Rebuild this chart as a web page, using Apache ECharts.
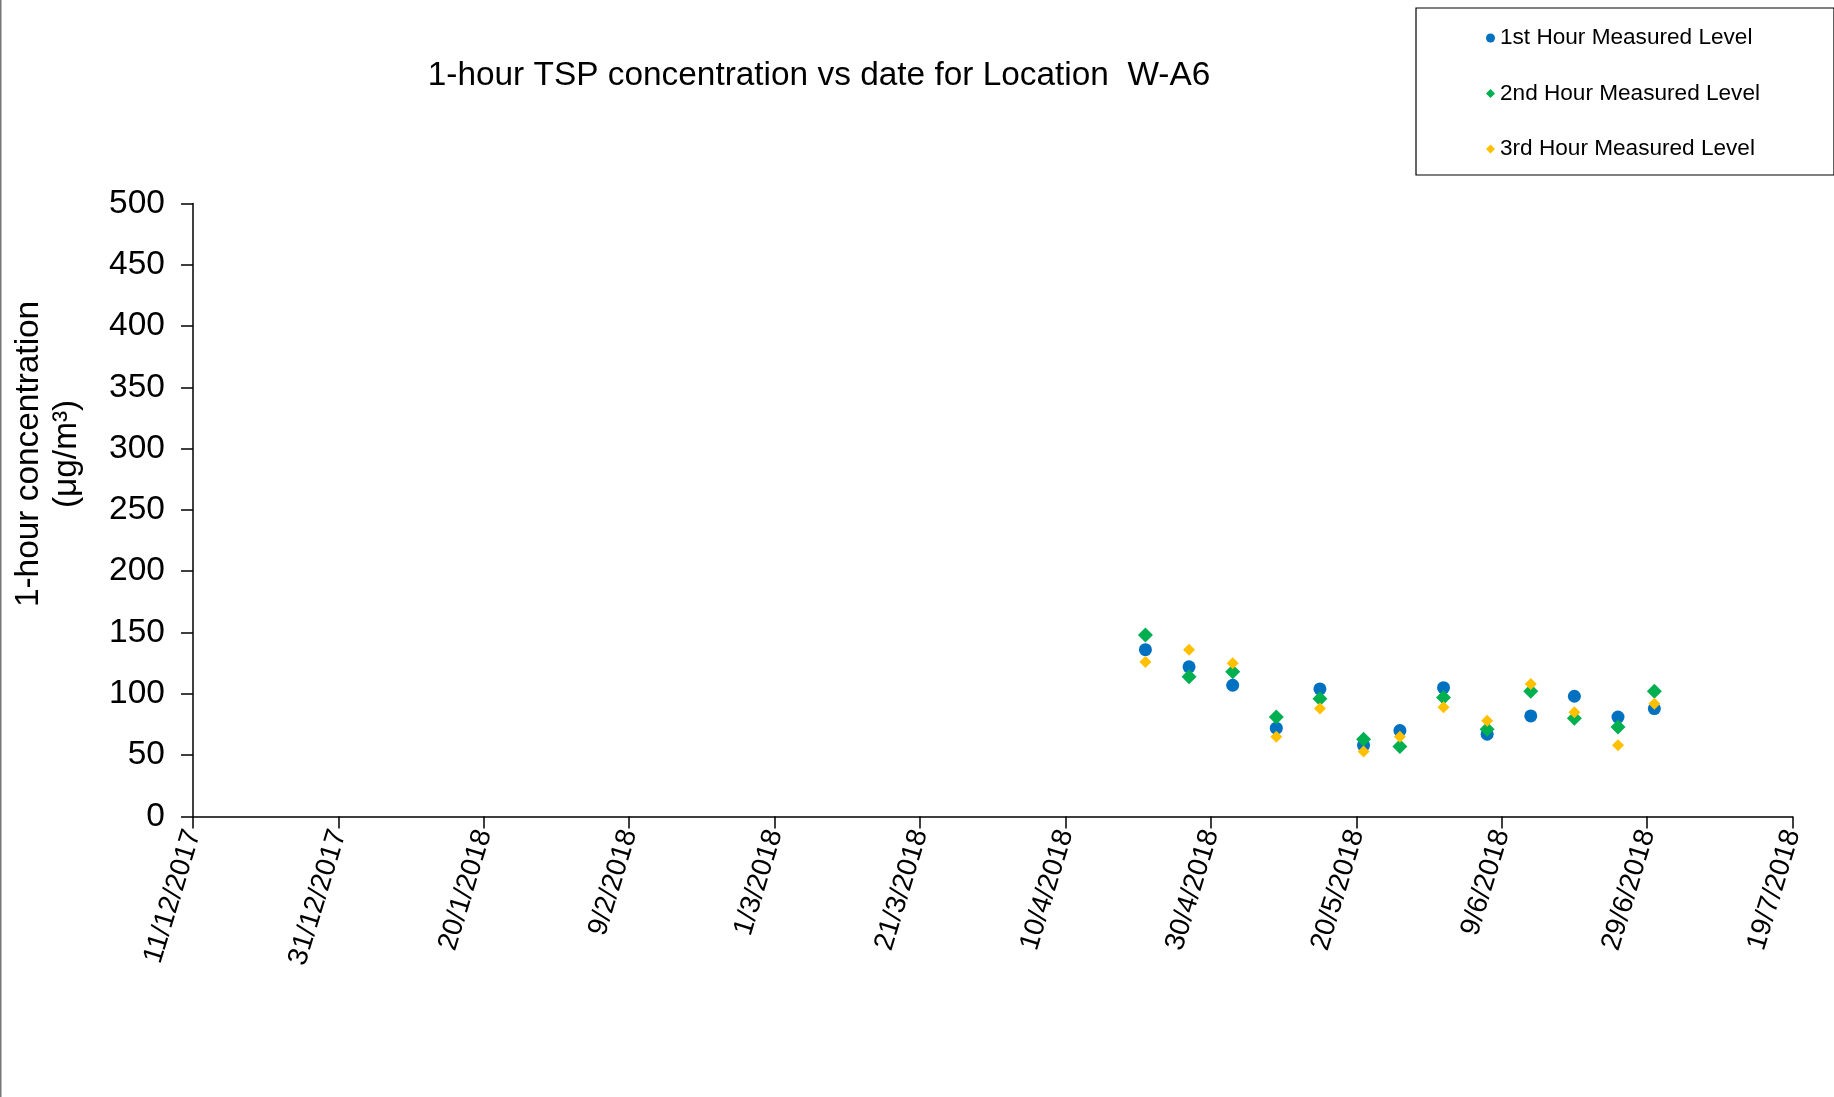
<!DOCTYPE html>
<html>
<head>
<meta charset="utf-8">
<script src="https://cdn.jsdelivr.net/npm/echarts@6/dist/echarts.min.js"></script>
<style>
html,body{margin:0;padding:0;background:#fff;}
#chart{width:1834px;height:1097px;}
</style>
</head>
<body>
<div id="chart"></div>
<script>
// ---- data ----
const chartTitle = '1-hour TSP concentration vs date for Location  W-A6';
const yAxisTitle = '1-hour concentration\n(μg/m³)';
const seriesNames = ['1st Hour Measured Level', '2nd Hour Measured Level', '3rd Hour Measured Level'];
const sampleDates = ['21/4/2018','27/4/2018','3/5/2018','9/5/2018','15/5/2018','21/5/2018','26/5/2018','1/6/2018','7/6/2018','13/6/2018','19/6/2018','25/6/2018','30/6/2018'];
const firstHour  = [136, 122, 107, 72, 104, 58, 70, 105, 67, 82, 98, 81, 88];
const secondHour = [148, 114, 118, 81, 96, 63, 57, 97, 71, 102, 80, 73, 102];
const thirdHour  = [126, 136, 125, 65, 88, 53, 65, 89, 78, 108, 85, 58, 92];
const xTickLabels = ['11/12/2017','31/12/2017','20/1/2018','9/2/2018','1/3/2018','21/3/2018','10/4/2018','30/4/2018','20/5/2018','9/6/2018','29/6/2018','19/7/2018'];
const yTicks = [0, 50, 100, 150, 200, 250, 300, 350, 400, 450, 500];

// ---- helpers ----
function dayNum(s){ const p = s.split('/').map(Number); return Date.UTC(p[2], p[1]-1, p[0]) / 86400000; }
const origin = dayNum(xTickLabels[0]);
const xStep = dayNum(xTickLabels[1]) - origin;
const xMax = dayNum(xTickLabels[xTickLabels.length-1]) - origin;
function pairs(vals){ return sampleDates.map((d,i)=>[dayNum(d)-origin, vals[i]]); }

const FONT = '"Liberation Sans", Arial, sans-serif';
const chart = echarts.init(document.getElementById('chart'), null, {renderer:'canvas'});
chart.setOption({
  backgroundColor: '#fff',
  animation: false,
  title: {
    text: chartTitle, left: 814, top: 54, textAlign: 'center',
    textStyle: {fontFamily: FONT, fontSize: 33.4, fontWeight: 'normal', color: '#000'}
  },
  legend: {
    left: 1416, top: 8, orient: 'vertical',
    padding: [18, 74, 14, 70],
    itemGap: 31.5, itemWidth: 9, itemHeight: 9,
    borderColor: '#000', borderWidth: 1.2,
    textStyle: {fontFamily: FONT, fontSize: 22.6, color: '#000', lineHeight: 24},
    data: seriesNames
  },
  grid: {left: 193, right: 41.5, top: 203.5, bottom: 280.6, containLabel: false, outerBoundsMode: 'none'},
  xAxis: {
    type: 'value', min: 0, max: xMax, interval: xStep,
    axisLine: {lineStyle: {color: '#000', width: 1.5}},
    axisTick: {show: true, inside: false, length: 12, lineStyle: {color: '#000', width: 1.5}},
    splitLine: {show: false},
    axisLabel: {
      rotate: 73, margin: 14, color: '#000', fontFamily: FONT, fontSize: 28,
      formatter: v => xTickLabels[Math.round(v / xStep)] || ''
    }
  },
  yAxis: {
    type: 'value', min: yTicks[0], max: yTicks[yTicks.length-1], interval: yTicks[1]-yTicks[0],
    name: yAxisTitle, nameLocation: 'middle', nameGap: 107, nameRotate: 90,
    nameTextStyle: {fontFamily: FONT, fontSize: 33.4, color: '#000', lineHeight: 38, padding: [0, 0, 0, 112]},
    axisLine: {show: true, lineStyle: {color: '#000', width: 1.5}},
    axisTick: {show: true, inside: false, length: 12, lineStyle: {color: '#000', width: 1.5}},
    splitLine: {show: false},
    axisLabel: {margin: 28, color: '#000', fontFamily: FONT, fontSize: 33.5}
  },
  graphic: [{type: 'rect', left: 0, top: 0, shape: {width: 1.5, height: 1097}, style: {fill: '#777'}}],
  series: [
    {name: seriesNames[0], type: 'scatter', symbol: 'circle', symbolSize: 13, itemStyle: {color: '#0070C0', opacity: 1}, data: pairs(firstHour)},
    {name: seriesNames[1], type: 'scatter', symbol: 'diamond', symbolSize: 15, itemStyle: {color: '#00B050', opacity: 1}, data: pairs(secondHour)},
    {name: seriesNames[2], type: 'scatter', symbol: 'diamond', symbolSize: 12, itemStyle: {color: '#FFC000', opacity: 1}, data: pairs(thirdHour)}
  ]
});
</script>
</body>
</html>
